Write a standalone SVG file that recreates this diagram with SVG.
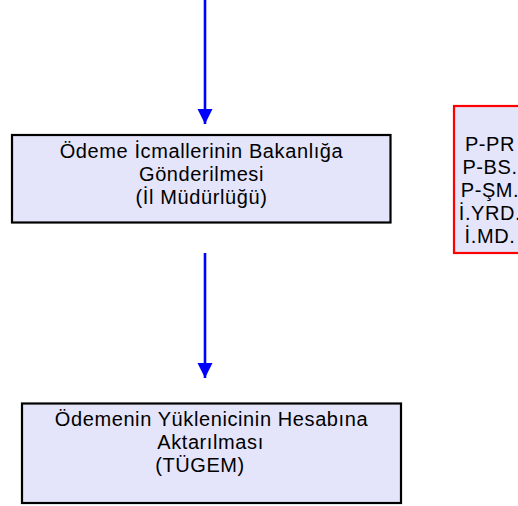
<svg xmlns="http://www.w3.org/2000/svg" width="518" height="506" viewBox="0 0 518 506">
<style>
.box{fill:#E4E4FA;stroke:#000;stroke-width:2.2}
.rbox{fill:#E4E4FA;stroke:#FF0000;stroke-width:2.2}
.t{font-family:"Liberation Sans",Arial,sans-serif;font-size:20px;letter-spacing:0.6px;fill:#000;text-anchor:middle}
.conn{stroke:#0000FF;stroke-width:2.6;fill:none}
</style>
<defs>
<marker id="ah" markerUnits="userSpaceOnUse" markerWidth="16" markerHeight="17" refX="15" refY="8" orient="auto" viewBox="0 0 16 16">
<path d="M0,0.5 L15,8 L0,15.5 Z" fill="#0000FF"/>
</marker>
</defs>
<rect width="518" height="506" fill="#fff"/>
<g id="connectors">
<line class="conn" x1="205" y1="0" x2="205" y2="124" marker-end="url(#ah)"/>
<line class="conn" x1="205" y1="253" x2="205" y2="378" marker-end="url(#ah)"/>
</g>
<g id="node1">
<rect class="box" x="12" y="135" width="378.5" height="87.5"/>
<text class="t" x="201.5" y="158">Ödeme İcmallerinin Bakanlığa</text>
<text class="t" x="201.5" y="181">Gönderilmesi</text>
<text class="t" x="201.5" y="204">(İl Müdürlüğü)</text>
</g>
<g id="node2">
<rect class="box" x="22" y="403.5" width="379" height="99.5"/>
<text class="t" x="211.5" y="426">Ödemenin Yüklenicinin Hesabına</text>
<text class="t" x="210.5" y="449">Aktarılması</text>
<text class="t" x="200" y="472">(TÜGEM)</text>
</g>
<g id="node3">
<rect class="rbox" x="454" y="106" width="80" height="147"/>
<text class="t" x="490" y="151">P-PR</text>
<text class="t" x="490" y="174">P-BS.</text>
<text class="t" x="490" y="197">P-ŞM.</text>
<text class="t" x="490" y="220">İ.YRD.</text>
<text class="t" x="490" y="243">İ.MD.</text>
</g>
</svg>
